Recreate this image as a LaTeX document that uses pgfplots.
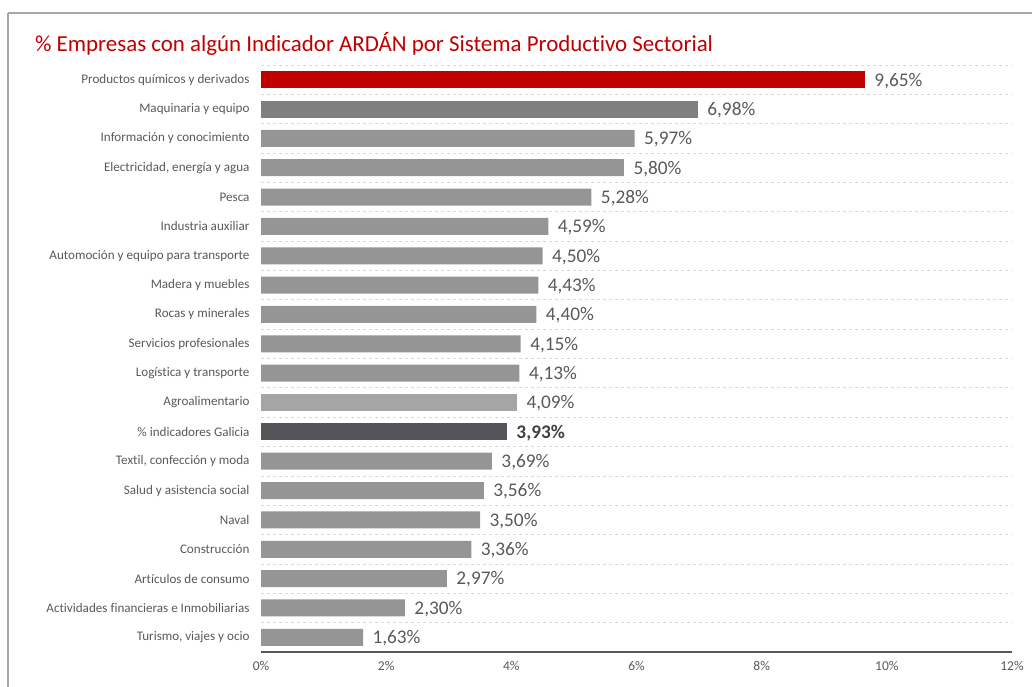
\documentclass[border=0pt]{standalone}
\usepackage{pgfplots}
\pgfplotsset{compat=1.18}
\usepackage{fontspec}
\setmainfont[Ligatures=NoCommon]{Carlito}
\definecolor{cred}{HTML}{C00000}
\definecolor{cdark}{HTML}{7F7F7F}
\definecolor{cmid}{HTML}{959595}
\definecolor{clight}{HTML}{A5A5A5}
\definecolor{cgal}{HTML}{545459}
\definecolor{ctxt}{HTML}{595959}
\definecolor{cgrid}{HTML}{D9D9D9}
\definecolor{cborder}{HTML}{A6A6A6}
\begin{document}
\begin{tikzpicture}
\useasboundingbox (0pt,0pt) rectangle (1032pt,686pt);
\draw[cborder,line width=2pt] (8pt,673pt) -- (8pt,-20pt) (8pt,673pt) -- (1050pt,673pt);
\node[anchor=base west,text=cred,font=\fontsize{22.9}{26}\selectfont,inner sep=0pt] at (35pt,634pt) {\% Empresas con algún Indicador ARDÁN por Sistema Productivo Sectorial};
\begin{axis}[
  at={(261pt,34pt)}, anchor=south west,
  scale only axis, width=751pt, height=587pt,
  xmin=0, xmax=12, ymin=0.5, ymax=20.5, y dir=reverse,
  xbar, bar width=17pt, bar shift=0pt,
  axis x line*=bottom, axis y line*=left,
  x axis line style={ctxt,line width=1.2pt,-},
  y axis line style={draw=none},
  xtick={0,2,...,12}, xticklabels={0\%,2\%,4\%,6\%,8\%,10\%,12\%},
  xticklabel style={text=ctxt,font=\fontsize{13.5}{15}\selectfont,yshift=-6pt},
  major tick length=0pt, minor tick length=0pt,
  ytick={1,...,20},
  yticklabels={Productos químicos y derivados,Maquinaria y equipo,Información y conocimiento,{Electricidad, energía y agua},Pesca,Industria auxiliar,Automoción y equipo para transporte,Madera y muebles,Rocas y minerales,Servicios profesionales,Logística y transporte,Agroalimentario,\% indicadores Galicia,{Textil, confección y moda},Salud y asistencia social,Naval,Construcción,Artículos de consumo,Actividades financieras e Inmobiliarias,{Turismo, viajes y ocio}},
  yticklabel style={text=ctxt,font=\fontsize{13.1}{15}\selectfont,xshift=-8pt},
  minor ytick={0.5,1.5,...,19.5},
  yminorgrids=true, minor grid style={cgrid,dashed,line width=0.8pt},
  /pgf/number format/assume math mode=true,
  nodes near coords={\pgfmathprintnumber[fixed,fixed zerofill,precision=2,use comma]{\pgfplotspointmeta}\%},
  nodes near coords style={text=ctxt,font=\fontsize{19.3}{21}\selectfont,anchor=west,xshift=6pt,yshift=-1pt},
  clip=false,
]
\addplot[fill=cred,draw=none] coordinates {(9.65,1)};
\addplot[fill=cdark,draw=none] coordinates {(6.98,2)};
\addplot[fill=cmid,draw=none] coordinates {(5.97,3) (5.80,4) (5.28,5) (4.59,6) (4.50,7) (4.43,8) (4.40,9) (4.15,10) (4.13,11) (3.69,14) (3.56,15) (3.50,16) (3.36,17) (2.97,18) (2.30,19) (1.63,20)};
\addplot[fill=clight,draw=none] coordinates {(4.09,12)};
\addplot[fill=cgal,draw=none,nodes near coords style={font=\fontsize{19.3}{21}\selectfont\bfseries,text=black!75}] coordinates {(3.93,13)};
\end{axis}
\end{tikzpicture}
\end{document}
